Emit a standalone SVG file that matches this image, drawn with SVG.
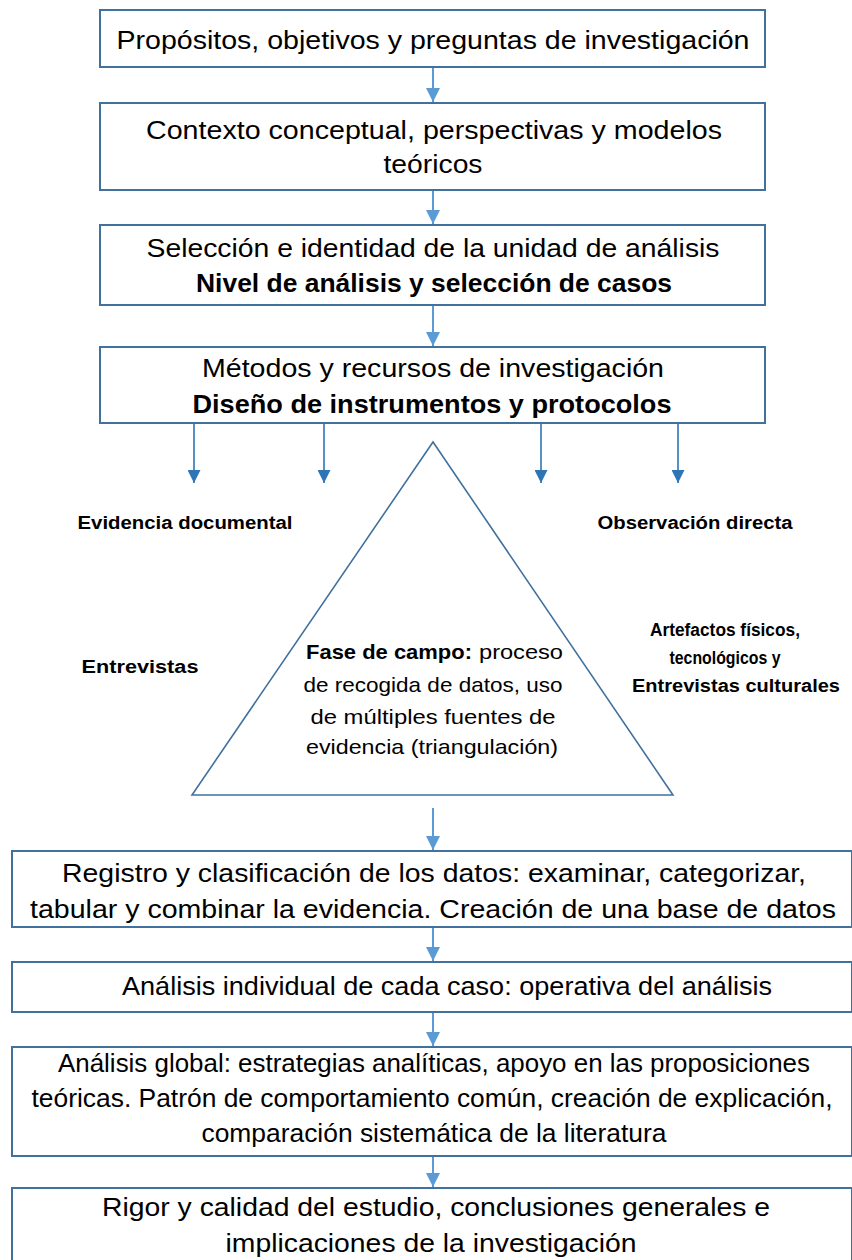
<svg xmlns="http://www.w3.org/2000/svg" width="852" height="1260" viewBox="0 0 852 1260">
<style>
.box{fill:#ffffff;stroke:#41719c;stroke-width:2}
.tri{fill:#ffffff;stroke:#41719c;stroke-width:1.6}
.t{font-family:"Liberation Sans",Arial,sans-serif;font-size:25px;fill:#000000;text-anchor:middle}
.b{font-weight:bold}
.lbl{font-family:"Liberation Sans",Arial,sans-serif;font-size:18px;font-weight:bold;fill:#000000;text-anchor:middle}
.tt{font-family:"Liberation Sans",Arial,sans-serif;font-size:21px;fill:#000000}
.conn{stroke:#5b9bd5;stroke-width:2;fill:none}
.conn2{stroke:#2e75b6;stroke-width:1.6;fill:none}
</style>
<defs>
<marker id="ah" viewBox="0 0 10 10" refX="10" refY="5" markerWidth="14" markerHeight="14" markerUnits="userSpaceOnUse" orient="auto">
<path d="M0,0 L10,5 L0,10 z" fill="#5b9bd5"/>
</marker>
<marker id="ah2" viewBox="0 0 10 10" refX="10" refY="5" markerWidth="13" markerHeight="13" markerUnits="userSpaceOnUse" orient="auto">
<path d="M0,0 L10,5 L0,10 z" fill="#2e75b6"/>
</marker>
</defs>

<g id="connectors">
<line class="conn" x1="433" y1="67" x2="433" y2="102" marker-end="url(#ah)"/>
<line class="conn" x1="433" y1="190" x2="433" y2="224" marker-end="url(#ah)"/>
<line class="conn" x1="433" y1="305" x2="433" y2="346" marker-end="url(#ah)"/>
<line class="conn2" x1="194" y1="423" x2="194" y2="483" marker-end="url(#ah2)"/>
<line class="conn2" x1="324" y1="423" x2="324" y2="483" marker-end="url(#ah2)"/>
<line class="conn2" x1="541" y1="423" x2="541" y2="483" marker-end="url(#ah2)"/>
<line class="conn2" x1="678" y1="423" x2="678" y2="483" marker-end="url(#ah2)"/>
<line class="conn" x1="433" y1="808" x2="433" y2="850" marker-end="url(#ah)"/>
<line class="conn" x1="433" y1="927" x2="433" y2="961" marker-end="url(#ah)"/>
<line class="conn" x1="433" y1="1012" x2="433" y2="1046" marker-end="url(#ah)"/>
<line class="conn" x1="433" y1="1156" x2="433" y2="1187" marker-end="url(#ah)"/>
</g>

<g id="n1">
<rect class="box" x="100" y="10" width="665" height="57"/>
<text class="t" x="433" y="49" textLength="633" lengthAdjust="spacingAndGlyphs">Propósitos, objetivos y preguntas de investigación</text>
</g>

<g id="n2">
<rect class="box" x="100" y="103" width="665" height="87"/>
<text class="t" x="434" y="139" textLength="576" lengthAdjust="spacingAndGlyphs">Contexto conceptual, perspectivas y modelos</text>
<text class="t" x="433" y="173" textLength="99" lengthAdjust="spacingAndGlyphs">teóricos</text>
</g>

<g id="n3">
<rect class="box" x="100" y="225" width="665" height="80"/>
<text class="t" x="433" y="257" textLength="573" lengthAdjust="spacingAndGlyphs">Selección e identidad de la unidad de análisis</text>
<text class="t b" x="434" y="292" textLength="476" lengthAdjust="spacingAndGlyphs">Nivel de análisis y selección de casos</text>
</g>

<g id="n4">
<rect class="box" x="100" y="347" width="665" height="76"/>
<text class="t" x="433" y="377" textLength="462" lengthAdjust="spacingAndGlyphs">Métodos y recursos de investigación</text>
<text class="t b" x="432" y="413" textLength="479" lengthAdjust="spacingAndGlyphs">Diseño de instrumentos y protocolos</text>
</g>

<g id="fase-campo">
<polygon class="tri" points="433,442 192,795 673,795"/>
<text class="tt" y="659"><tspan x="306" font-weight="bold" textLength="166" lengthAdjust="spacingAndGlyphs">Fase de campo:</tspan><tspan x="479" textLength="84" lengthAdjust="spacingAndGlyphs">proceso</tspan></text>
<text class="tt" x="433" y="692" text-anchor="middle" textLength="259" lengthAdjust="spacingAndGlyphs">de recogida de datos, uso</text>
<text class="tt" x="433" y="724" text-anchor="middle" textLength="245" lengthAdjust="spacingAndGlyphs">de múltiples fuentes de</text>
<text class="tt" x="432" y="754" text-anchor="middle" textLength="252" lengthAdjust="spacingAndGlyphs">evidencia (triangulación)</text>
</g>

<g id="evidencia-documental">
<text class="lbl" x="185" y="529" textLength="215" lengthAdjust="spacingAndGlyphs">Evidencia documental</text>
</g>
<g id="observacion-directa">
<text class="lbl" x="695" y="529" textLength="195" lengthAdjust="spacingAndGlyphs">Observación directa</text>
</g>
<g id="entrevistas">
<text class="lbl" x="140" y="673" textLength="117" lengthAdjust="spacingAndGlyphs">Entrevistas</text>
</g>
<g id="artefactos">
<text class="lbl" x="725" y="636" textLength="150" lengthAdjust="spacingAndGlyphs">Artefactos físicos,</text>
<text class="lbl" x="725" y="664" textLength="111" lengthAdjust="spacingAndGlyphs">tecnológicos y</text>
<text class="lbl" x="736" y="692" textLength="208" lengthAdjust="spacingAndGlyphs">Entrevistas culturales</text>
</g>

<g id="n5">
<rect class="box" x="12" y="851" width="840" height="76"/>
<text class="t" x="434" y="882" textLength="744" lengthAdjust="spacingAndGlyphs">Registro y clasificación de los datos: examinar, categorizar,</text>
<text class="t" x="433" y="918" textLength="806" lengthAdjust="spacingAndGlyphs">tabular y combinar la evidencia. Creación de una base de datos</text>
</g>

<g id="n6">
<rect class="box" x="12" y="962" width="840" height="50"/>
<text class="t" x="447" y="995" textLength="650" lengthAdjust="spacingAndGlyphs">Análisis individual de cada caso: operativa del análisis</text>
</g>

<g id="n7">
<rect class="box" x="12" y="1047" width="840" height="109"/>
<text class="t" x="434" y="1072" textLength="752" lengthAdjust="spacingAndGlyphs">Análisis global: estrategias analíticas, apoyo en las proposiciones</text>
<text class="t" x="432" y="1107" textLength="801" lengthAdjust="spacingAndGlyphs">teóricas. Patrón de comportamiento común, creación de explicación,</text>
<text class="t" x="434" y="1142" textLength="465" lengthAdjust="spacingAndGlyphs">comparación sistemática de la literatura</text>
</g>

<g id="n8">
<rect class="box" x="12" y="1188" width="840" height="80"/>
<text class="t" x="436" y="1216" textLength="668" lengthAdjust="spacingAndGlyphs">Rigor y calidad del estudio, conclusiones generales e</text>
<text class="t" x="431" y="1252" textLength="411" lengthAdjust="spacingAndGlyphs">implicaciones de la investigación</text>
</g>
</svg>
